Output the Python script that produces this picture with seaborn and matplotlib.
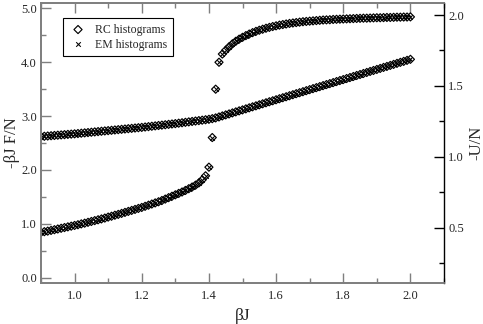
import matplotlib
matplotlib.use("Agg")
import matplotlib.pyplot as plt
import seaborn as sns
import pandas as pd
from matplotlib.ticker import MultipleLocator

beta = [0.90, 0.91, 0.92, 0.93, 0.94, 0.95, 0.96, 0.97, 0.98, 0.99,
        1.00, 1.01, 1.02, 1.03, 1.04, 1.05, 1.06, 1.07, 1.08, 1.09,
        1.10, 1.11, 1.12, 1.13, 1.14, 1.15, 1.16, 1.17, 1.18, 1.19,
        1.20, 1.21, 1.22, 1.23, 1.24, 1.25, 1.26, 1.27, 1.28, 1.29,
        1.30, 1.31, 1.32, 1.33, 1.34, 1.35, 1.36, 1.37, 1.38, 1.39,
        1.40, 1.41, 1.42, 1.43, 1.44, 1.45, 1.46, 1.47, 1.48, 1.49,
        1.50, 1.51, 1.52, 1.53, 1.54, 1.55, 1.56, 1.57, 1.58, 1.59,
        1.60, 1.61, 1.62, 1.63, 1.64, 1.65, 1.66, 1.67, 1.68, 1.69,
        1.70, 1.71, 1.72, 1.73, 1.74, 1.75, 1.76, 1.77, 1.78, 1.79,
        1.80, 1.81, 1.82, 1.83, 1.84, 1.85, 1.86, 1.87, 1.88, 1.89,
        1.90, 1.91, 1.92, 1.93, 1.94, 1.95, 1.96, 1.97, 1.98, 1.99,
        2.00]

# -beta J F / N  (left axis)
free_energy = [2.620, 2.625, 2.630, 2.635, 2.640, 2.645, 2.650, 2.655, 2.660, 2.665,
               2.670, 2.676, 2.682, 2.688, 2.694, 2.700, 2.706, 2.712, 2.718, 2.724,
               2.730, 2.736, 2.742, 2.748, 2.754, 2.760, 2.766, 2.772, 2.778, 2.784,
               2.790, 2.797, 2.804, 2.811, 2.818, 2.825, 2.832, 2.839, 2.846, 2.853,
               2.860, 2.868, 2.876, 2.884, 2.892, 2.900, 2.908, 2.916, 2.924, 2.932,
               2.940, 2.952, 2.966, 2.984, 3.003, 3.022, 3.040, 3.059, 3.078, 3.097,
               3.115, 3.134, 3.153, 3.172, 3.190, 3.209, 3.228, 3.247, 3.266, 3.284,
               3.303, 3.322, 3.341, 3.359, 3.378, 3.397, 3.416, 3.434, 3.453, 3.472,
               3.491, 3.510, 3.528, 3.547, 3.566, 3.585, 3.603, 3.622, 3.641, 3.660,
               3.678, 3.697, 3.716, 3.735, 3.754, 3.772, 3.791, 3.810, 3.829, 3.847,
               3.866, 3.885, 3.904, 3.922, 3.941, 3.960, 3.979, 3.998, 4.016, 4.035,
               4.054]

# -U / N  (right axis)
energy = [0.467, 0.472, 0.476, 0.481, 0.486, 0.491, 0.496, 0.501, 0.506, 0.511,
          0.516, 0.521, 0.527, 0.532, 0.538, 0.544, 0.550, 0.556, 0.562, 0.568,
          0.575, 0.581, 0.588, 0.594, 0.601, 0.608, 0.615, 0.622, 0.629, 0.636,
          0.643, 0.651, 0.659, 0.667, 0.675, 0.683, 0.692, 0.702, 0.712, 0.722,
          0.732, 0.742, 0.752, 0.763, 0.775, 0.787, 0.800, 0.816, 0.838, 0.866,
          0.927, 1.136, 1.477, 1.667, 1.725, 1.752, 1.776, 1.797, 1.815, 1.830,
          1.843, 1.855, 1.866, 1.876, 1.885, 1.893, 1.900, 1.907, 1.913, 1.919,
          1.924, 1.929, 1.933, 1.937, 1.941, 1.944, 1.947, 1.950, 1.953, 1.955,
          1.957, 1.959, 1.961, 1.963, 1.965, 1.966, 1.967, 1.969, 1.970, 1.971,
          1.972, 1.973, 1.974, 1.975, 1.976, 1.977, 1.978, 1.978, 1.979, 1.980,
          1.981, 1.981, 1.982, 1.983, 1.983, 1.984, 1.985, 1.985, 1.986, 1.986,
          1.987]

series_names = ["RC histograms", "EM histograms"]
x_ticks = [1.0, 1.2, 1.4, 1.6, 1.8, 2.0]
left_ticks = [0.0, 1.0, 2.0, 3.0, 4.0, 5.0]
right_ticks = [0.5, 1.0, 1.5, 2.0]

sns.set_style("ticks")
plt.rcParams['font.family'] = ['Liberation Serif', 'DejaVu Serif']

df = pd.DataFrame({"beta": beta, "F": free_energy, "U": energy})

fig = plt.figure(figsize=(4.83, 3.24), dpi=100)
ax = fig.add_axes([41 / 483, 1 - 283 / 324, (444 - 41) / 483, (283 - 3) / 324])
ax2 = ax.twinx()

gray = "#7f7f7f"
d_kw = dict(marker="D", s=17, facecolor="none", edgecolor="black", linewidth=0.85)
x_kw = dict(marker="x", s=11, color="black", linewidth=0.75)

sns.scatterplot(data=df, x="beta", y="F", ax=ax, **d_kw)
sns.scatterplot(data=df, x="beta", y="F", ax=ax, **x_kw)
sns.scatterplot(data=df, x="beta", y="U", ax=ax2, **d_kw)
sns.scatterplot(data=df, x="beta", y="U", ax=ax2, **x_kw)

ax.set_xlim(0.9, 2.1)
ax.set_ylim(-0.1, 5.1)
ax2.set_ylim(0.11, 2.085)

ax.set_xticks(x_ticks)
ax.set_xticklabels([f"{v:.1f}" for v in x_ticks])
ax.set_yticks(left_ticks)
ax.set_yticklabels([f"{v:.1f}" for v in left_ticks])
ax2.set_yticks(right_ticks)
ax2.set_yticklabels([f"{v:.1f}" for v in right_ticks])
ax.xaxis.set_minor_locator(MultipleLocator(0.1))
ax.yaxis.set_minor_locator(MultipleLocator(0.5))
ax2.yaxis.set_minor_locator(MultipleLocator(0.25))

ax.tick_params(axis="both", which="both", direction="in", color=gray, labelsize=9,
               top=True, width=1.0)
ax.tick_params(which="major", length=7)
ax.tick_params(which="minor", length=3.5)
ax.tick_params(axis="x", pad=5)
ax.tick_params(axis="y", pad=3)
ax2.tick_params(axis="y", which="both", direction="in", color="black", labelsize=9,
                width=1.0, pad=3)
ax2.tick_params(which="major", length=7)
ax2.tick_params(which="minor", length=3.5)

for s in ["left", "bottom", "top"]:
    ax.spines[s].set_color(gray)
    ax.spines[s].set_linewidth(1.3)
    ax2.spines[s].set_color(gray)
    ax2.spines[s].set_linewidth(1.3)
ax2.spines["right"].set_color("black")
ax2.spines["right"].set_linewidth(1.0)
ax.spines["right"].set_visible(False)

ax.set_xlabel("βJ", fontsize=12.5, labelpad=4)
ax.set_ylabel("-βJ F/N", fontsize=12, labelpad=1)
ax2.set_ylabel("-U/N", fontsize=12, labelpad=3)

h1 = ax.scatter([], [], label=series_names[0], **d_kw)
h2 = ax.scatter([], [], label=series_names[1], **x_kw)
leg = ax2.legend(handles=[h1, h2], loc="upper left", bbox_to_anchor=(0.045, 0.96),
                 fontsize=8.5, frameon=True, fancybox=False, edgecolor="black",
                 framealpha=1, borderpad=0.5, handletextpad=0.6, labelspacing=0.25,
                 handlelength=1.6, borderaxespad=0.3)
leg.get_frame().set_linewidth(0.8)

fig.savefig("out.png", dpi=100)
